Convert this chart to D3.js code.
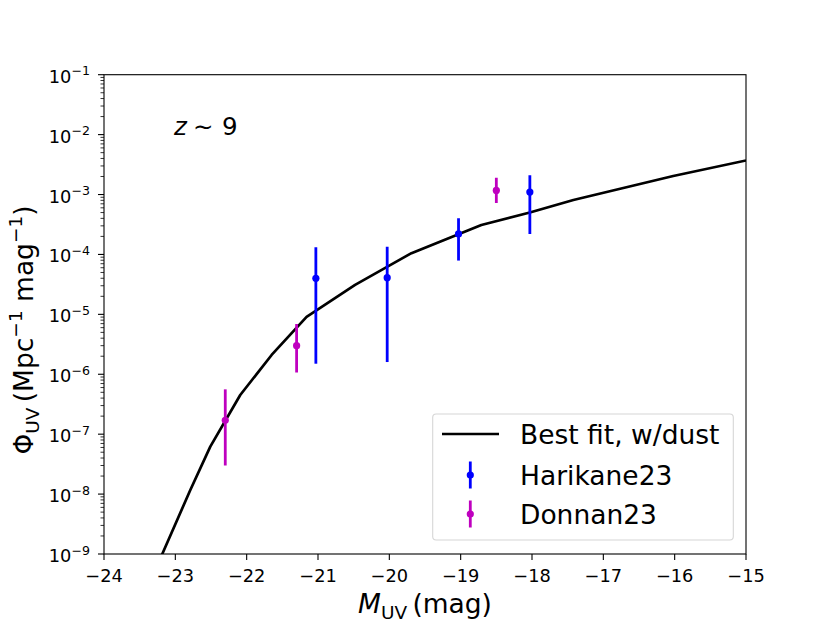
<!DOCTYPE html>
<html>
<head>
<meta charset="utf-8">
<script src="https://cdn.jsdelivr.net/npm/d3@7"></script>
<style>
  body { margin: 0; background: #fff; }
  text { font-family: "DejaVu Sans", sans-serif; fill: #000; }
</style>
</head>
<body>
<div id="chart"></div>
<script>
// best fit curve (M_UV, Phi)
const fitM = [-23.3, -23.18, -22.79, -22.51, -22.09, -21.65, -21.16, -20.48, -19.69, -18.71, -18.03, -17.42, -16.02, -15.0];
const fitPhi = [4.8e-10, 1.02e-9, 1.17e-8, 6.2e-8, 4.5e-7, 2.1e-6, 9.1e-6, 3.1e-5, 1.05e-4, 3.1e-4, 5.0e-4, 8.1e-4, 2.04e-3, 3.7e-3];

// Harikane23
const harM = [-21.03, -20.03, -19.03, -18.03];
const harPhi = [4.0e-5, 4.1e-5, 2.2e-4, 1.1e-3];
const harHi = [1.32e-4, 1.35e-4, 4.0e-4, 2.1e-3];
const harLo = [1.5e-6, 1.6e-6, 7.9e-5, 2.2e-4];

// Donnan23
const donM = [-22.30, -21.30, -18.50];
const donPhi = [1.7e-7, 3.0e-6, 1.17e-3];
const donHi = [5.6e-7, 6.9e-6, 1.9e-3];
const donLo = [3.0e-8, 1.07e-6, 7.2e-4];

const xTicks = [-24, -23, -22, -21, -20, -19, -18, -17, -16, -15];
const yExps = [-9, -8, -7, -6, -5, -4, -3, -2, -1];

const W = 830, H = 623;
const pLeft = 104, pRight = 746, pTop = 74.7, pBottom = 554;

const svg = d3.select("#chart").append("svg")
  .attr("width", W)
  .attr("height", H);

const x = d3.scaleLinear().domain([-24, -15]).range([pLeft, pRight]);
const y = d3.scaleLog().domain([1e-9, 1e-1]).range([pBottom, pTop]);

svg.append("defs").append("clipPath").attr("id", "clip")
  .append("rect")
  .attr("x", pLeft).attr("y", pTop)
  .attr("width", pRight - pLeft).attr("height", pBottom - pTop);

const plot = svg.append("g").attr("clip-path", "url(#clip)");

// fit line
const fitData = fitM.map((m, i) => ({m: m, p: fitPhi[i]}));
plot.append("path")
  .datum(fitData)
  .attr("d", d3.line().x(d => x(d.m)).y(d => y(d.p)))
  .attr("fill", "none")
  .attr("stroke", "#000")
  .attr("stroke-width", 2.7)
  .attr("stroke-linejoin", "round");

function drawErr(ms, ps, his, los, color) {
  const data = ms.map((m, i) => ({m: m, p: ps[i], hi: his[i], lo: los[i]}));
  const g = plot.append("g");
  g.selectAll("line")
    .data(data)
    .join("line")
    .attr("x1", d => x(d.m)).attr("x2", d => x(d.m))
    .attr("y1", d => y(d.hi)).attr("y2", d => y(d.lo))
    .attr("stroke", color)
    .attr("stroke-width", 2.8);
  g.selectAll("circle")
    .data(data)
    .join("circle")
    .attr("cx", d => x(d.m))
    .attr("cy", d => y(d.p))
    .attr("r", 3.6)
    .attr("fill", color);
}

drawErr(donM, donPhi, donHi, donLo, "#bf00bf");
drawErr(harM, harPhi, harHi, harLo, "#0000ff");

// frame
svg.append("rect")
  .attr("x", pLeft).attr("y", pTop)
  .attr("width", pRight - pLeft).attr("height", pBottom - pTop)
  .attr("fill", "none")
  .attr("stroke", "#000")
  .attr("stroke-width", 1.1);

// x axis ticks
const xt = svg.append("g");
xt.selectAll("line")
  .data(xTicks)
  .join("line")
  .attr("x1", d => x(d)).attr("x2", d => x(d))
  .attr("y1", pBottom).attr("y2", pBottom + 6)
  .attr("stroke", "#000").attr("stroke-width", 1.1);
xt.selectAll("text")
  .data(xTicks)
  .join("text")
  .attr("x", d => x(d))
  .attr("y", pBottom + 28)
  .attr("text-anchor", "middle")
  .style("font-size", "17.8px")
  .text(d => "\u2212" + Math.abs(d));

// y axis ticks (major + minor)
const minor = [];
yExps.slice(0, -1).forEach(e => {
  for (let k = 2; k <= 9; k++) minor.push(k * Math.pow(10, e));
});
svg.append("g").selectAll("line")
  .data(minor)
  .join("line")
  .attr("x1", pLeft - 3.5).attr("x2", pLeft)
  .attr("y1", d => y(d)).attr("y2", d => y(d))
  .attr("stroke", "#000").attr("stroke-width", 0.8);

const yt = svg.append("g");
yt.selectAll("line")
  .data(yExps)
  .join("line")
  .attr("x1", pLeft - 6).attr("x2", pLeft)
  .attr("y1", d => y(Math.pow(10, d))).attr("y2", d => y(Math.pow(10, d)))
  .attr("stroke", "#000").attr("stroke-width", 1.1);
const ylab = yt.selectAll("text")
  .data(yExps)
  .join("text")
  .attr("x", 90)
  .attr("y", d => y(Math.pow(10, d)) + 8)
  .attr("text-anchor", "end")
  .style("font-size", "17.8px");
ylab.append("tspan").text("10");
ylab.append("tspan")
  .attr("dy", -7.5)
  .style("font-size", "12.6px")
  .text(d => "\u2212" + Math.abs(d));

// axis labels
const xl = svg.append("text")
  .attr("x", (pLeft + pRight) / 2)
  .attr("y", 613)
  .attr("text-anchor", "middle")
  .style("font-size", "26.5px");
xl.append("tspan").style("font-style", "italic").text("M");
xl.append("tspan").attr("dy", 5.5).style("font-size", "18.5px").text("UV");
xl.append("tspan").attr("dy", -5.5).text("\u2009(mag)");

const yl = svg.append("text")
  .attr("transform", "translate(33,330) rotate(-90)")
  .attr("text-anchor", "middle")
  .style("font-size", "26.5px");
yl.append("tspan").text("\u03A6");
yl.append("tspan").attr("dy", 5.5).style("font-size", "18.5px").text("UV");
yl.append("tspan").attr("dy", -5.5).text("\u2009(Mpc");
yl.append("tspan").attr("dy", -11).style("font-size", "18.5px").text("\u22121");
yl.append("tspan").attr("dy", 11).text(" mag");
yl.append("tspan").attr("dy", -11).style("font-size", "18.5px").text("\u22121");
yl.append("tspan").attr("dy", 11).text(")");

// annotation
const ann = svg.append("text")
  .attr("y", 135)
  .style("font-size", "24.5px");
ann.append("tspan").attr("x", 174).style("font-style", "italic").text("z");
ann.append("tspan").attr("x", 193).text("\u223C");
ann.append("tspan").attr("x", 222).text("9");

// legend
const lg = svg.append("g");
lg.append("rect")
  .attr("x", 432.7).attr("y", 414)
  .attr("width", 300.6).attr("height", 126)
  .attr("rx", 3.5)
  .attr("fill", "#fff").attr("fill-opacity", 0.8)
  .attr("stroke", "#d6d6d6").attr("stroke-width", 1.1);

const legItems = [
  {label: "Best fit, w/dust", type: "line", color: "#000"},
  {label: "Harikane23", type: "err", color: "#0000ff"},
  {label: "Donnan23", type: "err", color: "#bf00bf"}
];
const rowY = [434, 475, 514];
legItems.forEach((it, i) => {
  const cy = rowY[i];
  if (it.type === "line") {
    lg.append("line")
      .attr("x1", 442).attr("x2", 499)
      .attr("y1", cy).attr("y2", cy)
      .attr("stroke", it.color).attr("stroke-width", 2.7);
  } else {
    lg.append("line")
      .attr("x1", 470.3).attr("x2", 470.3)
      .attr("y1", cy - 13.5).attr("y2", cy + 13.5)
      .attr("stroke", it.color).attr("stroke-width", 2.8);
    lg.append("circle")
      .attr("cx", 470.3).attr("cy", cy)
      .attr("r", 3.6).attr("fill", it.color);
  }
  lg.append("text")
    .attr("x", 520)
    .attr("y", cy + 9.5)
    .style("font-size", "26.5px")
    .text(it.label);
});
</script>
</body>
</html>
